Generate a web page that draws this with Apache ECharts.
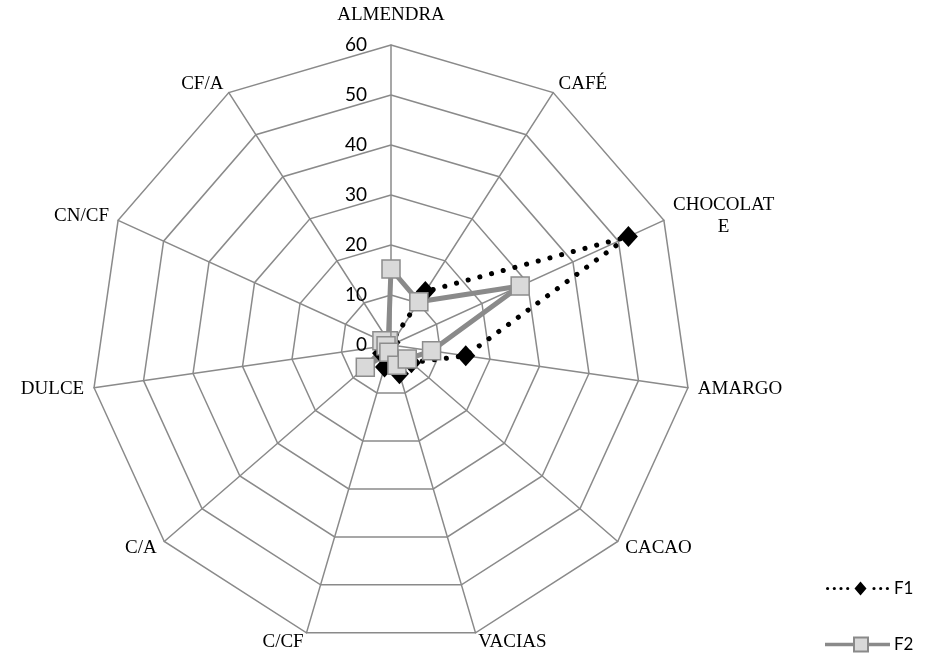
<!DOCTYPE html>
<html>
<head>
<meta charset="utf-8">
<script src="https://cdn.jsdelivr.net/npm/echarts@6/dist/echarts.min.js"></script>
<style>
  html, body { margin: 0; padding: 0; background: #fff; }
  #chart { width: 926px; height: 657px; }
</style>
</head>
<body>
<div id="chart"></div>
<script>
// Sensory profile attributes, clockwise from the top
const categories = ['ALMENDRA', 'CAFÉ', 'CHOCOLATE', 'AMARGO', 'CACAO', 'VACIAS', 'C/CF', 'C/A', 'DULCE', 'CN/CF', 'CF/A'];
const scaleMax = 60;
const scaleStep = 10;

const f1Values = [0.5, 12.7, 52.2, 15.1, 5.4, 6, 4.6, 2.5, 1, 0.5, 0.5];
const f2Values = [15.2, 10.3, 28.4, 8.2, 4.3, 4.2, 1.5, 6.8, 1, 2, 1];

// Radar indicators run counter-clockwise, so keep the first one at the top
// and walk the rest backwards to get a clockwise layout.
const order = [0].concat(categories.slice(1).map((_, i) => categories.length - 1 - i));
const reorder = arr => order.map(i => arr[i]);

const indicators = order.map((i, k) => {
  const ind = { name: categories[i], min: 0, max: scaleMax };
  if (k === 0) ind.axisLabel = { show: true };
  return ind;
});

const gridColor = '#8a8a8a';
const serif = 'Liberation Serif';
const sans = 'Lato';

// Legend swatches: dotted line with a diamond, solid line with a square
const dot = (x, r) => `M${x - r} 7 a${r} ${r} 0 1 0 ${2 * r} 0 a${r} ${r} 0 1 0 ${-2 * r} 0 Z `;
const f1Icon = 'path://' + [1.6, 8.3, 15, 21.7, 48, 54.7, 61.4].map(x => dot(x, 1.6)).join('') +
  'M34.5 0 L40.5 7 L34.5 14 L28.5 7 Z';
const f2Icon = 'path://M0 6.25 H28 V7.75 H0 Z M42 6.25 H63 V7.75 H42 Z M28 0 H42 V14 H28 Z';

const chart = echarts.init(document.getElementById('chart'));
chart.setOption({
  backgroundColor: '#fff',
  animation: false,
  legend: {
    orient: 'vertical',
    left: 825,
    top: 580,
    padding: 0,
    itemWidth: 63,
    itemHeight: 14,
    itemGap: 39,
    selectedMode: false,
    textStyle: { fontFamily: sans, fontSize: 17, color: '#000', lineHeight: 14 },
    data: [
      { name: 'F1', icon: f1Icon, itemStyle: { color: '#000', borderWidth: 0 } },
      { name: 'F2', icon: f2Icon, itemStyle: { color: '#d9d9d9', borderColor: '#8a8a8a', borderWidth: 2 } }
    ]
  },
  radar: {
    center: [391, 345],
    radius: 300,
    startAngle: 90,
    shape: 'polygon',
    splitNumber: scaleMax / scaleStep,
    indicator: indicators,
    axisNameGap: 10,
    axisName: {
      color: '#000',
      fontFamily: serif,
      fontSize: 19,
      formatter: function (name) {
        if (name === 'ALMENDRA') return '{top|' + name + '}';
        if (name === 'CHOCOLATE') return '{wrap|CHOCOLAT}\n{wrap|E}';
        return name;
      },
      rich: {
        top: { fontFamily: serif, fontSize: 19, color: '#000', padding: [0, 0, 10, 0] },
        wrap: { fontFamily: serif, fontSize: 19, color: '#000', align: 'center', lineHeight: 22 }
      }
    },
    axisLabel: {
      show: false,
      color: '#000',
      fontFamily: sans,
      fontSize: 19,
      margin: 24
    },
    axisTick: { show: false },
    axisLine: { lineStyle: { color: gridColor, width: 1.5 } },
    splitLine: { lineStyle: { color: gridColor, width: 1.5 } },
    splitArea: { show: false }
  },
  series: [{
    type: 'radar',
    data: [
      {
        name: 'F1',
        value: reorder(f1Values),
        symbol: 'diamond',
        symbolSize: [19, 21],
        itemStyle: { color: '#000' },
        lineStyle: { color: '#000', width: 5, type: [0.1, 12], cap: 'round' }
      },
      {
        name: 'F2',
        value: reorder(f2Values),
        symbol: 'rect',
        symbolSize: 18,
        itemStyle: { color: '#d9d9d9', borderColor: '#8c8c8c', borderWidth: 1.5 },
        lineStyle: { color: '#8a8a8a', width: 5 }
      }
    ]
  }]
});
</script>
</body>
</html>
